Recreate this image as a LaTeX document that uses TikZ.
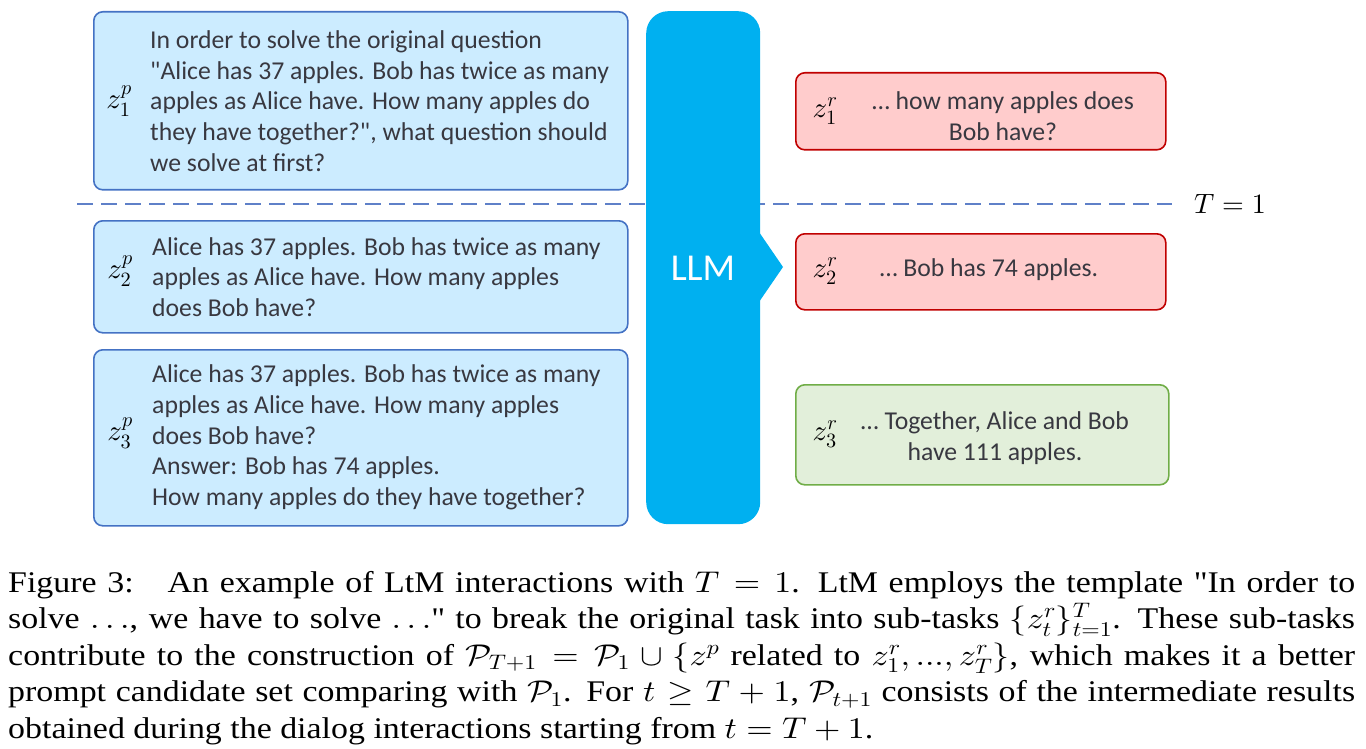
\documentclass[tikz,border=0pt]{standalone}
\usepackage{graphicx}
\usepackage{fontspec}
\setmainfont{Liberation Serif}[Ligatures=TeXOff]
\newfontfamily\boxfont{Carlito}
\DeclareFontShape{OML}{cmm}{m}{it}{<->cmmi10}{}
\DeclareFontShape{OMS}{cmsy}{m}{n}{<->cmsy10}{}
\DeclareFontShape{OMX}{cmex}{m}{n}{<->cmex10}{}
\DeclareFontShape{OT1}{cmr}{m}{n}{<->cmr10}{}
\definecolor{bfill}{RGB}{204,236,255}
\definecolor{bdraw}{RGB}{68,114,196}
\definecolor{llmc}{RGB}{0,176,240}
\definecolor{rfill}{RGB}{255,204,204}
\definecolor{rdraw}{RGB}{192,0,0}
\definecolor{gfill}{RGB}{226,239,218}
\definecolor{gdraw}{RGB}{112,173,71}
\definecolor{dashc}{RGB}{95,128,200}
\definecolor{txt}{RGB}{56,56,64}
\tikzset{
  box/.style={rounded corners=9pt, line width=1.6pt, anchor=north west, inner sep=0pt},
  bluebox/.style={box, fill=bfill, draw=bdraw},
  redbox/.style={box, fill=rfill, draw=rdraw},
  greenbox/.style={box, fill=gfill, draw=gdraw},
  btext/.style={font=\boxfont\fontsize{25.7}{30.7}\selectfont, text=txt, inner sep=0pt},
  zlab/.style={font=\fontsize{29}{31}\selectfont, inner sep=0pt},
}
\begin{document}
\begin{tikzpicture}[x=1pt,y=-1pt]
\useasboundingbox (0,0) rectangle (1366,749);
% dashed separator
\coordinate (dl) at (77,204);
\coordinate (dr) at (1172,204);
\draw[dashc, line width=1.8pt, dash pattern=on 16pt off 8pt] (dl) -- (dr);
\node[anchor=west, font=\fontsize{28}{30}\selectfont, inner sep=0pt] (tlab) at (1194,204) {$T=1$};
% prompt boxes
\node[bluebox, minimum width=534pt, minimum height=178pt] (p1) at (93,11) {};
\node[bluebox, minimum width=534pt, minimum height=112pt] (p2) at (93,220) {};
\node[bluebox, minimum width=534pt, minimum height=176pt] (p3) at (93,349) {};
\node[zlab] (z1p) at (119,101) {$z_1^p$};
\node[zlab] (z2p) at (120,271) {$z_2^p$};
\node[zlab] (z3p) at (120,433) {$z_3^p$};
\node[btext, anchor=west, align=left] (t1) at (150,101) {In order to solve the original question\\"Alice has 37 apples. Bob has twice as many\\apples as Alice have. How many apples do\\they have together?", what question should\\we solve at first?};
\node[btext, anchor=west, align=left] (t2) at (152,277) {Alice has 37 apples. Bob has twice as many\\apples as Alice have. How many apples\\does Bob have?};
\node[btext, anchor=west, align=left] (t3) at (152,437.5) {Alice has 37 apples. Bob has twice as many\\apples as Alice have. How many apples\\does Bob have?\\Answer: Bob has 74 apples.\\How many apples do they have together?};
% LLM
\node[fill=llmc, rounded corners=22pt, minimum width=114pt, minimum height=513pt, anchor=north west, inner sep=0pt] (llm) at (646,11) {};
\fill[llmc] (759,232) -- (783,267) -- (759,302) -- cycle;
\node[font=\boxfont\fontsize{38}{40}\selectfont, text=white, inner sep=0pt] (llmt) at (703,268) {LLM};
% response boxes
\node[redbox, minimum width=370pt, minimum height=77pt] (r1) at (795,72) {};
\node[redbox, minimum width=370pt, minimum height=76pt] (r2) at (795,233) {};
\node[greenbox, minimum width=373pt, minimum height=100pt] (r3) at (795,384) {};
\node[zlab] (z1r) at (825,111) {$z_1^r$};
\node[zlab] (z2r) at (825,271) {$z_2^r$};
\node[zlab] (z3r) at (825,434) {$z_3^r$};
\node[btext, align=center] (s1) at (1003,116) {… how many apples does\\Bob have?};
\node[btext] (s2) at (989,270) {… Bob has 74 apples.};
\node[btext, align=center] (s3) at (995,438) {… Together, Alice and Bob\\have 111 apples.};
% caption
\node[anchor=north west, inner sep=0pt] (cap) at (8,571) {\scalebox{1.13}[1]{\parbox[t]{1192pt}{\fontsize{30}{36.5}\selectfont Figure 3:\quad An example of LtM interactions with $T = 1$. LtM employs the template "In order to\linebreak solve $\ldots$, we have to solve $\ldots$" to break the original task into sub-tasks $\{z_t^r\}_{t=1}^T$. These sub-tasks\linebreak contribute to the construction of $\mathcal{P}_{T+1} = \mathcal{P}_1 \cup \{z^p$ related to $z_1^r, ..., z_T^r\}$, which makes it a better\linebreak prompt candidate set comparing with $\mathcal{P}_1$. For $t \geq T+1$, $\mathcal{P}_{t+1}$ consists of the intermediate results\linebreak obtained during the dialog interactions starting from $t = T+1$.}}};
\end{tikzpicture}
\end{document}
